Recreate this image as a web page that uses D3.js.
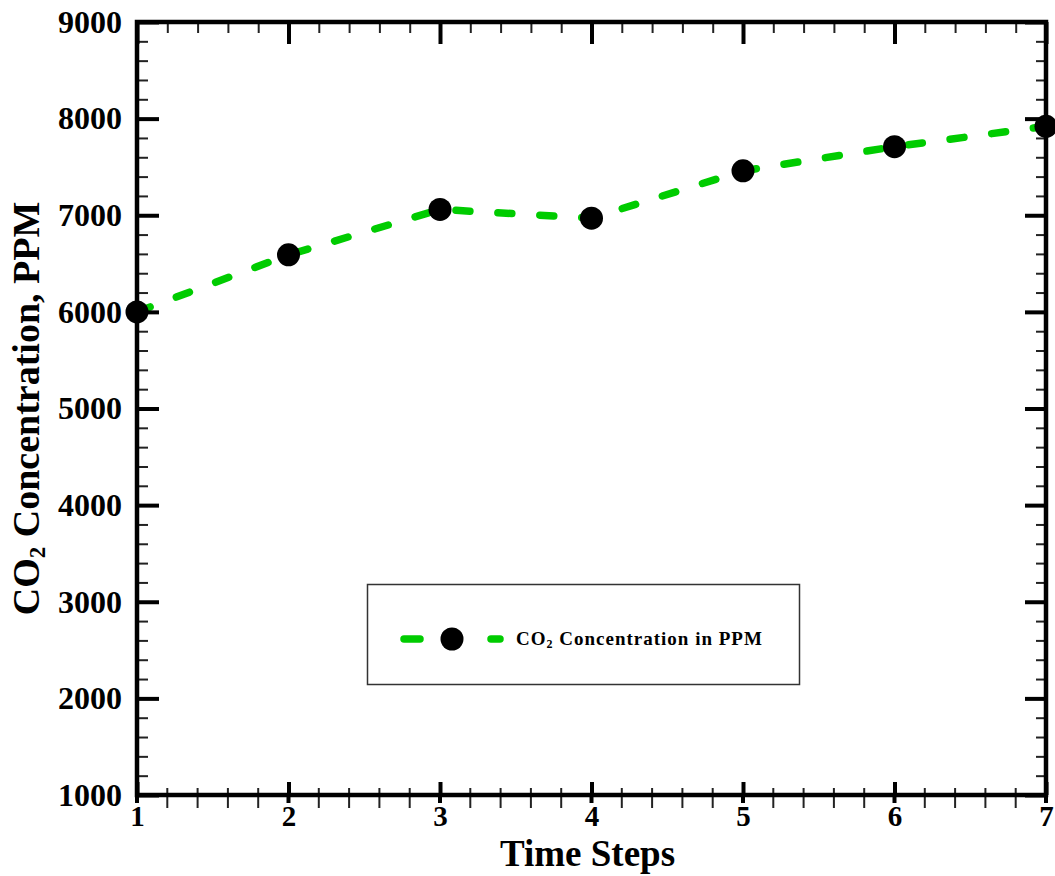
<!DOCTYPE html>
<html>
<head>
<meta charset="utf-8">
<script src="https://cdn.jsdelivr.net/npm/d3@7"></script>
<style>
  html, body { margin: 0; padding: 0; background: #fff; }
  svg { display: block; }
  text { font-family: "Liberation Serif", "Times New Roman", serif; font-weight: bold; fill: #000; }
</style>
</head>
<body>
<script>
// ---- data ----
const timeSteps = [1, 2, 3, 4, 5, 6, 7];
const co2Values = [6000, 6590, 7060, 6970, 7460, 7710, 7920];
const xTickValues = [1, 2, 3, 4, 5, 6, 7];
const yTickValues = [1000, 2000, 3000, 4000, 5000, 6000, 7000, 8000, 9000];
const seriesName = "Concentration in PPM";

const W = 1055, H = 876;
const margin = { left: 137, top: 22, right: W - 1046, bottom: H - 795 };
const iw = W - margin.left - margin.right;
const ih = H - margin.top - margin.bottom;

const svg = d3.select("body").append("svg").attr("width", W).attr("height", H);
const g = svg.append("g").attr("transform", `translate(${margin.left},${margin.top})`);

const x = d3.scaleLinear().domain([1, 7]).range([0, iw]);
const y = d3.scaleLinear().domain([1000, 9000]).range([ih, 0]);

const xMinor = d3.range(1, 7.0001, 0.2).filter(v => Math.abs(v - Math.round(v)) > 1e-6);
const yMinor = d3.range(1000, 9000.1, 200).filter(v => v % 1000 !== 0);

const line = d3.line().x((d, i) => x(timeSteps[i])).y(d => y(d)).curve(d3.curveLinear);
g.append("path")
  .datum(co2Values)
  .attr("d", line)
  .attr("fill", "none")
  .attr("stroke", "#00cc00")
  .attr("stroke-width", 7.5)
  .attr("stroke-linecap", "round")
  .attr("stroke-dasharray", "14 28");

g.selectAll("circle.pt").data(co2Values).join("circle")
  .attr("class", "pt")
  .attr("cx", (d, i) => x(timeSteps[i]))
  .attr("cy", d => y(d))
  .attr("r", 11.5)
  .attr("fill", "#000");

function styleTicks(sel, w, color) {
  sel.select(".domain").remove();
  sel.selectAll(".tick line").attr("stroke", color).attr("stroke-width", w);
}

// left axis
const gl = g.append("g").call(d3.axisLeft(y).tickValues(yTickValues).tickSize(-22).tickPadding(15).tickFormat(d3.format("d")));
styleTicks(gl, 4, "#000");
gl.selectAll("text").style("font-size", "32px").attr("fill", "#000");
const glm = g.append("g").call(d3.axisLeft(y).tickValues(yMinor).tickSize(-11).tickFormat(""));
styleTicks(glm, 2, "#222");

// right axis
const gr = g.append("g").attr("transform", `translate(${iw},0)`).call(d3.axisRight(y).tickValues(yTickValues).tickSize(-21).tickFormat(""));
styleTicks(gr, 4, "#000");
const grm = g.append("g").attr("transform", `translate(${iw},0)`).call(d3.axisRight(y).tickValues(yMinor).tickSize(-10).tickFormat(""));
styleTicks(grm, 2, "#222");

// top axis
const gt = g.append("g").call(d3.axisTop(x).tickValues(xTickValues).tickSize(-22).tickFormat(""));
styleTicks(gt, 4, "#000");
const gtm = g.append("g").call(d3.axisTop(x).tickValues(xMinor).tickSize(-11).tickFormat(""));
styleTicks(gtm, 2, "#222");

// bottom axis
const gb = g.append("g").attr("transform", `translate(0,${ih})`).call(d3.axisBottom(x).tickValues(xTickValues).tickSize(-13).tickPadding(10).tickFormat(d3.format("d")));
styleTicks(gb, 4, "#000");
gb.selectAll("text").style("font-size", "29px").attr("fill", "#000");
g.append("g").selectAll("line").data(xTickValues).join("line")
  .attr("x1", d => x(d)).attr("x2", d => x(d))
  .attr("y1", ih).attr("y2", ih + 8)
  .attr("stroke", "#000").attr("stroke-width", 4);
g.append("g").selectAll("line").data(xMinor).join("line")
  .attr("x1", d => x(d)).attr("x2", d => x(d))
  .attr("y1", ih - 7).attr("y2", ih + 13)
  .attr("stroke", "#222").attr("stroke-width", 2);

// frame
g.append("rect").attr("x", 0).attr("y", 0).attr("width", iw).attr("height", ih)
  .attr("fill", "none").attr("stroke", "#000").attr("stroke-width", 4.5);

// axis titles
svg.append("text")
  .attr("x", margin.left + iw / 2 - 4).attr("y", 866)
  .attr("text-anchor", "middle")
  .style("font-size", "37px")
  .text("Time Steps");

const yt = svg.append("text")
  .attr("transform", `translate(39,${margin.top + ih / 2}) rotate(-90)`)
  .attr("text-anchor", "middle")
  .style("font-size", "38px");
yt.append("tspan").text("CO");
yt.append("tspan").attr("baseline-shift", "-25%").style("font-size", "23px").text("2");
yt.append("tspan").text(" Concentration, PPM");

// legend
const lg = svg.append("g");
lg.append("rect").attr("x", 367.5).attr("y", 584.5).attr("width", 432).attr("height", 100)
  .attr("fill", "#fff").attr("stroke", "#333").attr("stroke-width", 1.5);
const legendDashes = [[404, 420], [491, 500]];
lg.selectAll("line.ld").data(legendDashes).join("line")
  .attr("class", "ld")
  .attr("x1", d => d[0]).attr("x2", d => d[1]).attr("y1", 639).attr("y2", 639)
  .attr("stroke", "#00cc00").attr("stroke-width", 7.5).attr("stroke-linecap", "round");
lg.append("circle").attr("cx", 452).attr("cy", 639).attr("r", 11.5).attr("fill", "#000");
const lt = lg.append("text").attr("x", 516).attr("y", 645).style("font-size", "19px").style("letter-spacing", "1px");
lt.append("tspan").text("CO");
lt.append("tspan").attr("baseline-shift", "-25%").style("font-size", "12px").text("2");
lt.append("tspan").text(" " + seriesName);
</script>
</body>
</html>
